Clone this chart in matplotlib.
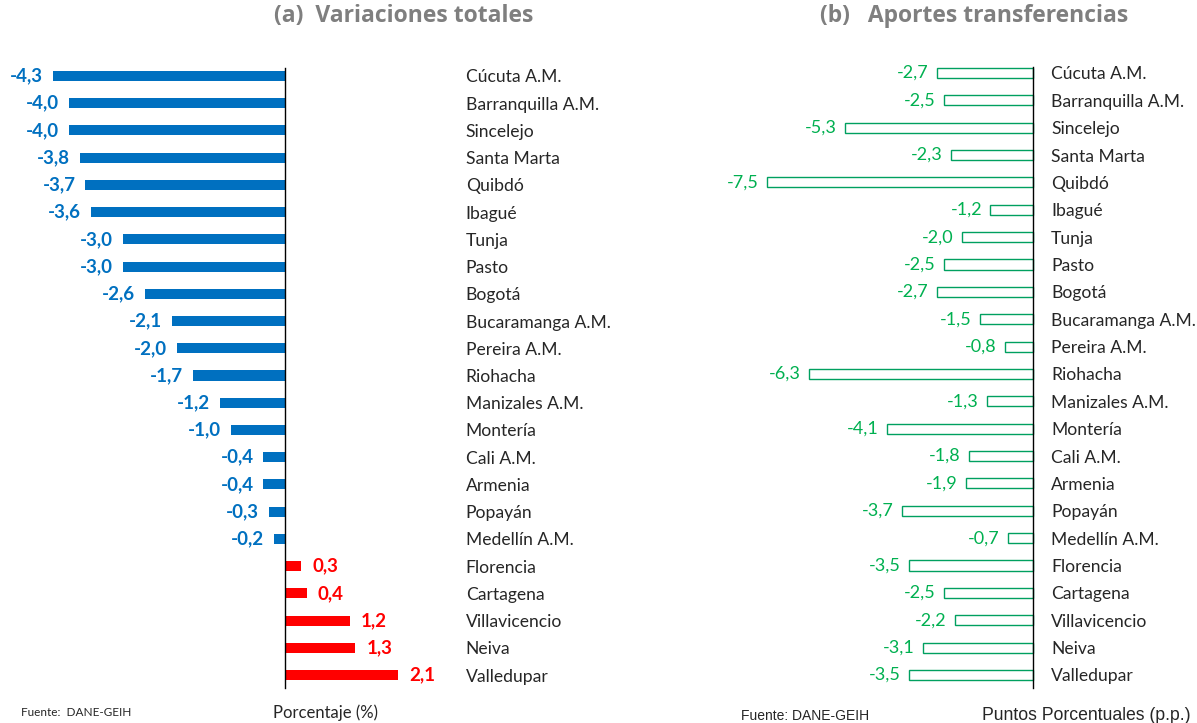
import matplotlib

matplotlib.use("Agg")
import matplotlib.pyplot as plt

plt.rcParams["font.family"] = ["Lato", "DejaVu Sans"]

ciudades = [
    "Cúcuta A.M.", "Barranquilla A.M.", "Sincelejo", "Santa Marta", "Quibdó",
    "Ibagué", "Tunja", "Pasto", "Bogotá", "Bucaramanga A.M.", "Pereira A.M.",
    "Riohacha", "Manizales A.M.", "Montería", "Cali A.M.", "Armenia", "Popayán",
    "Medellín A.M.", "Florencia", "Cartagena", "Villavicencio", "Neiva", "Valledupar",
]
variaciones = [-4.3, -4.0, -4.0, -3.8, -3.7, -3.6, -3.0, -3.0, -2.6, -2.1, -2.0, -1.7,
               -1.2, -1.0, -0.4, -0.4, -0.3, -0.2, 0.3, 0.4, 1.2, 1.3, 2.1]
transferencias = [-2.7, -2.5, -5.3, -2.3, -7.5, -1.2, -2.0, -2.5, -2.7, -1.5, -0.8, -6.3,
                  -1.3, -4.1, -1.8, -1.9, -3.7, -0.7, -3.5, -2.5, -2.2, -3.1, -3.5]

AZUL = "#0070C0"
ROJO = "#FF0000"
VERDE = "#00B050"
GRIS = "#7F7F7F"

W, H = 1197, 723
fig = plt.figure(figsize=(W / 100, H / 100), dpi=100)


def rect(x0, y0, x1, y1):
    # pixel box (top-left origin) -> figure fraction
    return [x0 / W, 1 - y1 / H, (x1 - x0) / W, (y1 - y0) / H]


pos = list(range(len(ciudades)))

# ---- (a) Variaciones totales
ax1 = fig.add_axes(rect(0, 62, 456, 690))
colores = [AZUL if v < 0 else ROJO for v in variaciones]
ax1.barh(pos, variaciones, height=0.37, color=colores)
ax1.set_xlim(-285 / 54, (456 - 285) / 54)
ax1.set_ylim(22.55, -0.514)
ax1.plot([0, 0], [-0.29, 22.48], color="black", lw=1)
for i, v in enumerate(variaciones):
    txt = f"{v:.1f}".replace(".", ",")
    ax1.annotate(txt, (v, i), xytext=(-7 if v < 0 else 8, 0), textcoords="offset points",
                 ha="right" if v < 0 else "left", va="center",
                 color=colores[i], fontsize=13.5, fontweight="bold")
ax1.yaxis.tick_right()
ax1.set_yticks(pos, ciudades, fontsize=12.6, color="#262626")
ax1.tick_params(axis="y", length=0, pad=7)
ax1.set_xticks([])
for s in ax1.spines.values():
    s.set_visible(False)

# ---- (b) Aportes transferencias
ax2 = fig.add_axes(rect(700, 62, 1040, 690))
ax2.barh(pos, transferencias, height=0.37, color="white", edgecolor="#00A060", lw=1)
ax2.set_xlim((700 - 1033) / 35.5, 7 / 35.5)
ax2.set_ylim(22.55, -0.40)
ax2.plot([0, 0], [-0.22, 22.48], color="black", lw=1)
for i, v in enumerate(transferencias):
    txt = f"{v:.1f}".replace(".", ",")
    ax2.annotate(txt, (v, i), xytext=(-6, 0), textcoords="offset points",
                 ha="right", va="center", color=VERDE, fontsize=13)
ax2.yaxis.tick_right()
ax2.set_yticks(pos, ciudades, fontsize=12.6, color="#262626")
ax2.tick_params(axis="y", length=0, pad=8)
ax2.set_xticks([])
for s in ax2.spines.values():
    s.set_visible(False)

# titles and footers
fig.text(404 / W, 1 - 16 / H, "(a)  Variaciones totales", ha="center", va="center",
         fontsize=16.5, fontweight="bold", color=GRIS, family="Open Sans")
fig.text(974 / W, 1 - 16 / H, "(b)   Aportes transferencias", ha="center", va="center",
         fontsize=16.5, fontweight="bold", color=GRIS, family="Open Sans")
fig.text(21 / W, 1 - 713 / H, "Fuente:  DANE-GEIH", ha="left", va="center", fontsize=8.5,
         color="#262626")
fig.text(273 / W, 1 - 713 / H, "Porcentaje (%)", ha="left", va="center", fontsize=12,
         color="#262626")
fig.text(741 / W, 1 - 716 / H, "Fuente: DANE-GEIH", ha="left", va="center", fontsize=10,
         color="#262626", family="Liberation Sans")
fig.text(982 / W, 1 - 716 / H, "Puntos Porcentuales (p.p.)", ha="left", va="center",
         fontsize=12.7, color="#262626", family="Liberation Sans")

fig.savefig("out.png", dpi=100)
